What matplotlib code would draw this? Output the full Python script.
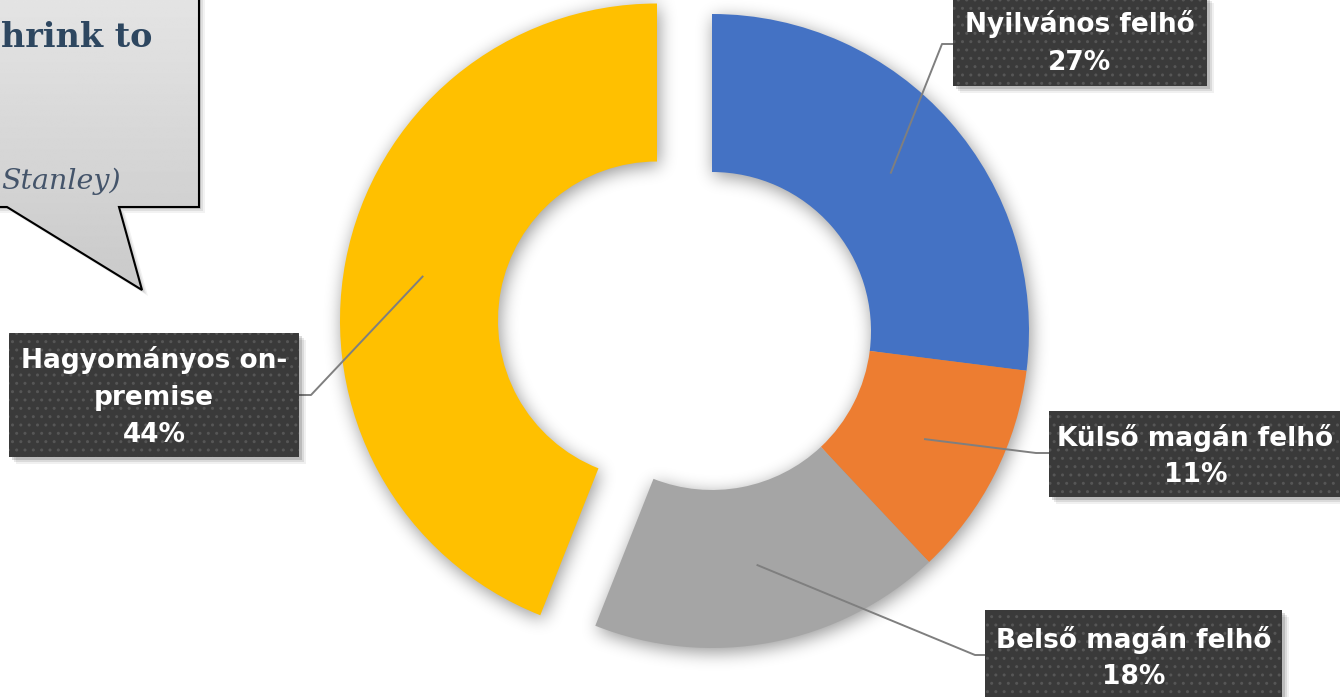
import numpy as np
import matplotlib
matplotlib.use("Agg")
import matplotlib.pyplot as plt
from matplotlib.patches import Rectangle, Polygon

# ---- data ----
categories = ["Nyilvános felhő", "Külső magán felhő", "Belső magán felhő", "Hagyományos on-\npremise"]
values = [27, 11, 18, 44]
colors = ["#4472C4", "#ED7D31", "#A5A5A5", "#FFC000"]
explode_px = [0, 0, 0, 56]

W, H = 1340, 697
fig = plt.figure(figsize=(W / 100, H / 100), dpi=100)
ax = fig.add_axes([0, 0, 1, 1])

CX, CY, R, RW = 712, 331, 317, 158

wedges, _ = ax.pie(values, colors=colors, startangle=-90, counterclock=True,
                   radius=R, center=(CX, CY), explode=explode_px,
                   wedgeprops=dict(width=RW, linewidth=0), frame=True)
for w in wedges:
    w.set_zorder(5)

ax.set_xlim(0, W)
ax.set_ylim(H, 0)
ax.set_aspect("auto")
ax.axis("off")

# ---- soft shadow of doughnut ----
def box_blur(a, r, axis):
    c = np.cumsum(np.pad(a, [(r + 1, r) if i == axis else (0, 0) for i in range(a.ndim)], mode="edge"), axis=axis)
    n = a.shape[axis]
    hi = np.take(c, np.arange(2 * r + 1, 2 * r + 1 + n), axis=axis)
    lo = np.take(c, np.arange(0, n), axis=axis)
    return (hi - lo) / (2 * r + 1)

yy, xx = np.mgrid[0:H, 0:W]
pts = np.column_stack([xx.ravel() + 0.5 - 2, yy.ravel() + 0.5 - 4])
mask = np.zeros(H * W)
for w in wedges:
    mask = np.maximum(mask, w.get_path().contains_points(pts).astype(float))
mask = mask.reshape(H, W)
bl = mask
for _ in range(3):
    bl = box_blur(bl, 8, 0)
    bl = box_blur(bl, 8, 1)
shadow = np.zeros((H, W, 4))
shadow[..., 3] = bl * 0.42
ax.imshow(shadow, extent=(0, W, H, 0), zorder=2, interpolation="bilinear")

# ---- speech bubble (cropped) ----
bubble = [(-300, -20), (199, -20), (199, 207), (119, 207), (142, 290), (7, 207), (-300, 207)]
for k, a in [(6, 0.05), (4, 0.08), (2, 0.12)]:
    ax.add_patch(Polygon([(x + k, y + k) for x, y in bubble], closed=True,
                         facecolor="black", edgecolor="none", alpha=a, zorder=6))
grad = np.linspace(0.90, 0.79, 256)[:, None] * np.ones((1, 2))
poly = Polygon(bubble, closed=True, facecolor="none", edgecolor="black", linewidth=1.5, zorder=8)
ax.add_patch(poly)
im = ax.imshow(grad, cmap="gray", vmin=0, vmax=1, extent=(-300, 200, 290, -20),
               aspect="auto", zorder=7, interpolation="bilinear")
im.set_clip_path(Polygon(bubble, closed=True, transform=ax.transData))
ax.text(1, 47, "hrink to", ha="left", va="baseline", fontsize=24,
        fontfamily="DejaVu Serif", fontweight="bold", color="#2E4760", zorder=9)
ax.text(1, 189, "Stanley)", ha="left", va="baseline", fontsize=20.5,
        fontfamily="DejaVu Serif", fontstyle="italic", color="#44546A", zorder=9)
ax.set_xlim(0, W)
ax.set_ylim(H, 0)

# ---- labels ----
# (box x0, y0, x1, y1), elbow point, attach point
boxes = [(953, -4, 1207, 86), (1049, 411, 1342, 497), (985, 610, 1282, 702), (9, 333, 299, 457)]
elbows = [(942, 44), (1036, 453), (975, 655), (311, 395)]
attach = [(953, 44), (1049, 453), (985, 655), (299, 395)]

for i, w in enumerate(wedges):
    th = np.deg2rad((w.theta1 + w.theta2) / 2)
    rm = w.r - RW / 2
    sx = w.center[0] + rm * np.cos(th)
    sy = w.center[1] + rm * np.sin(th)
    ex, ey = elbows[i]
    axx, ayy = attach[i]
    ax.plot([sx, ex, axx], [sy, ey, ayy], color="#7F7F7F", lw=1.4, zorder=10,
            solid_capstyle="butt")
    x0, y0, x1, y1 = boxes[i]
    for k, a in [(7, 0.06), (5, 0.09), (3, 0.14)]:
        ax.add_patch(Rectangle((x0 + k, y0 + k), x1 - x0, y1 - y0, facecolor="black",
                               edgecolor="none", alpha=a, zorder=11))
    ax.add_patch(Rectangle((x0, y0), x1 - x0, y1 - y0, facecolor="#3A3A3A",
                           edgecolor="none", zorder=12))
    ax.add_patch(Rectangle((x0, y0), x1 - x0, y1 - y0, facecolor="none", hatch="..",
                           edgecolor="#565656", linewidth=0, zorder=13))
    ax.text((x0 + x1) / 2, (y0 + y1) / 2 + 2, f"{categories[i]}\n{values[i]}%",
            ha="center", va="center", fontsize=19, fontweight="bold",
            fontfamily="DejaVu Sans", color="white", linespacing=1.55, zorder=14)

fig.savefig("out.png", dpi=100, facecolor="white")
